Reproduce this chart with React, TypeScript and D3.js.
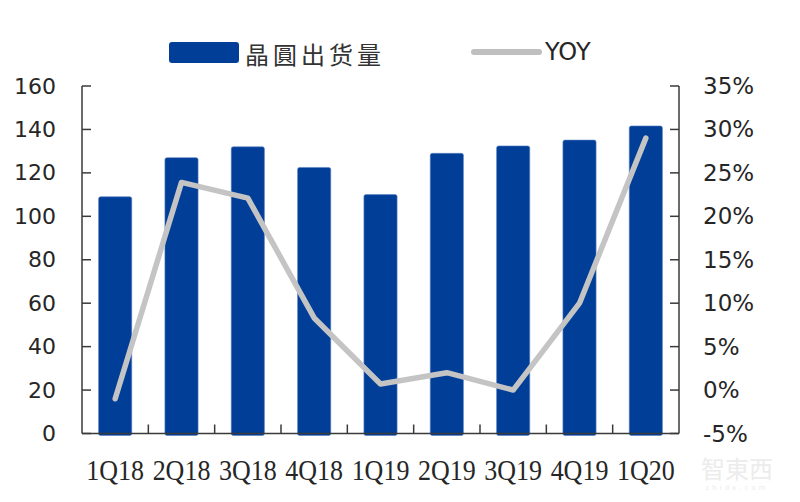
import React from "react";
import * as d3 from "d3";

const categories = ["1Q18", "2Q18", "3Q18", "4Q18", "1Q19", "2Q19", "3Q19", "4Q19", "1Q20"];
const shipments = [109, 127, 132, 122.5, 110, 129, 132.4, 135.1, 141.6];
const yoy = [-1.0, 23.9, 22.1, 8.3, 0.7, 2.0, 0.0, 10.0, 29.0];
const leftTicks = [0, 20, 40, 60, 80, 100, 120, 140, 160];
const rightTicks = [-5, 0, 5, 10, 15, 20, 25, 30, 35];
const barLabel = "晶圓出货量";
const lineLabel = "YOY";

const W = 800;
const H = 502;
const left = 82;
const right = 679;
const top = 86;
const bottom = 433.5;

export default function App() {
  const x = d3.scaleBand<string>().domain(categories).range([left, right]).paddingInner(0.5).paddingOuter(0.25);
  const yL = d3.scaleLinear().domain([0, 160]).range([bottom, top]);
  const yR = d3.scaleLinear().domain([-5, 35]).range([bottom, top]);
  const step = x.step();
  const line = d3
    .line<number>()
    .x((_, i) => (x(categories[i]) as number) + x.bandwidth() / 2)
    .y((d) => yR(d));

  const axisColor = "#3a3a3a";
  const textColor = "#262626";
  const sans = "'DejaVu Sans', Verdana, sans-serif";

  return (
    <svg width={W} height={H} style={{ position: "absolute", left: 0, top: 0, background: "#fff" }}>
      {/* legend */}
      <rect x={169} y={42} width={70} height={21} rx={3} fill="#003E98" />
      <text x={245} y={53} fontFamily="'Noto Sans CJK SC', sans-serif" fontSize={24} letterSpacing={4} fill="#333" dominantBaseline="central">
        {barLabel}
      </text>
      <line x1={474} x2={539} y1={52} y2={52} stroke="#BFBFBF" strokeWidth={6} strokeLinecap="round" />
      <text x={545} y={52} fontFamily={sans} fontSize={24} fill={textColor} dominantBaseline="central">
        {lineLabel}
      </text>

      {/* bars */}
      {categories.map((c, i) => (
        <rect
          key={c}
          x={x(c)}
          y={yL(shipments[i])}
          width={x.bandwidth()}
          height={yL(0) - yL(shipments[i]) + 2}
          rx={2}
          fill="#003E98"
          stroke="#5a7fc4"
          strokeWidth={0.6}
        />
      ))}

      {/* axes */}
      <line x1={left} x2={left} y1={top} y2={bottom} stroke={axisColor} strokeWidth={1.5} />
      <line x1={right} x2={right} y1={top} y2={bottom} stroke={axisColor} strokeWidth={1.5} />
      <line x1={left} x2={right} y1={bottom} y2={bottom} stroke={axisColor} strokeWidth={1.5} />
      {leftTicks.map((t) => (
        <g key={"l" + t}>
          <line x1={left} x2={left + 9} y1={yL(t)} y2={yL(t)} stroke={axisColor} strokeWidth={1.5} />
          <text x={56} y={yL(t)} textAnchor="end" dominantBaseline="central" fontFamily={sans} fontSize={22} fill={textColor}>
            {t}
          </text>
        </g>
      ))}
      {rightTicks.map((t) => (
        <g key={"r" + t}>
          <line x1={right - 9} x2={right} y1={yR(t)} y2={yR(t)} stroke={axisColor} strokeWidth={1.5} />
          <text x={703} y={yR(t)} textAnchor="start" dominantBaseline="central" fontFamily={sans} fontSize={23} fill={textColor}>
            {t + "%"}
          </text>
        </g>
      ))}
      {categories.slice(1).map((c, i) => (
        <line key={"xt" + c} x1={left + (i + 1) * step} x2={left + (i + 1) * step} y1={bottom - 9} y2={bottom} stroke={axisColor} strokeWidth={1.5} />
      ))}
      {categories.map((c) => (
        <text
          key={"xl" + c}
          transform={`translate(${(x(c) as number) + x.bandwidth() / 2},480) scale(1,1.15)`}
          textAnchor="middle"
          fontFamily="'Liberation Serif', serif"
          fontSize={26}
          fill={textColor}
        >
          {c}
        </text>
      ))}

      {/* line */}
      <path d={line(yoy) || ""} fill="none" stroke="#C4C4C4" strokeWidth={5.5} strokeLinejoin="round" strokeLinecap="round" />

      {/* watermark */}
      <text x={737} y={478} textAnchor="middle" fontFamily="'Noto Sans CJK SC', sans-serif" fontSize={24} fill="#ececec">
        智東西
      </text>
      <text x={737} y={490} textAnchor="middle" fontFamily={sans} fontSize={7} letterSpacing={3} fill="#ececec">
        zhidx.com
      </text>
    </svg>
  );
}
